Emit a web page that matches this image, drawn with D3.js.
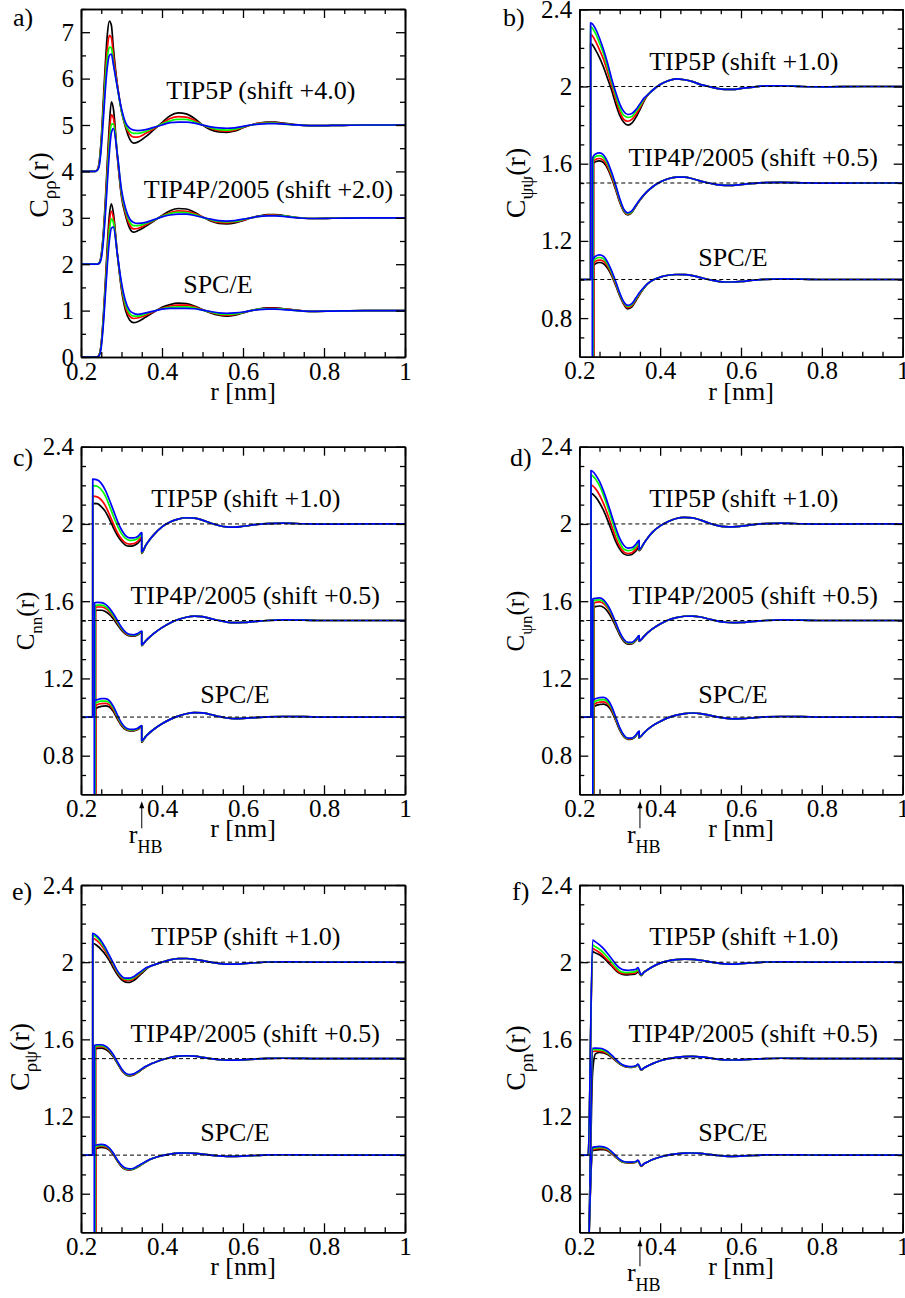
<!DOCTYPE html>
<html><head><meta charset="utf-8">
<script src="https://cdn.jsdelivr.net/npm/d3@7"></script>
<style>body{margin:0;background:#fff}</style>
</head><body>
<svg id="chart" width="905" height="1298"></svg>
<script>
// ---------------- DATA ----------------
const COLORS = ['#000000', '#ff0000', '#00ff00', '#0000ff'];
const MODEL_NAMES = ['TIP5P', 'TIP4P/2005', 'SPC/E'];
const X_TICKS = [0.2, 0.4, 0.6, 0.8, 1.0];
const X_MINOR = [0.25, 0.3, 0.35, 0.45, 0.5, 0.55, 0.65, 0.7, 0.75, 0.85, 0.9, 0.95];
const Y_TICKS_A = [0, 1, 2, 3, 4, 5, 6, 7];
const Y_MINOR_A = [0.5, 1.5, 2.5, 3.5, 4.5, 5.5, 6.5, 7.5];
const Y_TICKS = [0.8, 1.2, 1.6, 2.0, 2.4];
const Y_MINOR = [0.7, 0.9, 1.0, 1.1, 1.3, 1.4, 1.5, 1.7, 1.8, 1.9, 2.1, 2.2, 2.3];
const REF_LINES = [1.0, 1.5, 2.0];
const BASE = [1.0, 0.5, 0.0];
// small per-temperature spread of the onset position (black, red, green, blue) for TIP4P/2005 and SPC/E
const ONSET_SPREAD = [0.0008, 0.0016, 0.0004, -0.0012];

// panel a) C_rho rho
const A_R = [0.2, 0.235, 0.24, 0.245, 0.25, 0.255, 0.26, 0.265, 0.27, 0.275, 0.28, 0.29, 0.30, 0.31, 0.32, 0.33, 0.34, 0.36, 0.38, 0.40, 0.42, 0.44, 0.46, 0.48, 0.50, 0.52, 0.54, 0.56, 0.58, 0.60, 0.62, 0.64, 0.66, 0.68, 0.70, 0.72];
const A_TIP5P = [
  [4, 4, 4.03, 4.2, 4.7, 5.5, 6.3, 6.95, 7.24, 7.15, 6.65, 5.85, 5.3, 4.95, 4.7, 4.61, 4.63, 4.75, 4.9, 5.05, 5.2, 5.26, 5.24, 5.14, 5.0, 4.9, 4.85, 4.84, 4.87, 4.94, 5.0, 5.04, 5.06, 5.06, 5.04, 5.02],
  [4, 4, 4.03, 4.18, 4.65, 5.35, 6.1, 6.65, 6.93, 6.88, 6.5, 5.85, 5.3, 4.98, 4.8, 4.74, 4.74, 4.82, 4.92, 5.03, 5.14, 5.18, 5.17, 5.1, 5.0, 4.93, 4.88, 4.87, 4.89, 4.95, 5.0, 5.04, 5.05, 5.05, 5.03, 5.01],
  [4, 4, 4.02, 4.15, 4.6, 5.25, 5.95, 6.45, 6.68, 6.66, 6.35, 5.8, 5.3, 5.0, 4.86, 4.82, 4.82, 4.86, 4.94, 5.02, 5.09, 5.12, 5.12, 5.07, 5.0, 4.94, 4.9, 4.89, 4.91, 4.96, 5.0, 5.03, 5.04, 5.04, 5.02, 5.01],
  [4, 4, 4.02, 4.12, 4.5, 5.1, 5.75, 6.25, 6.5, 6.53, 6.3, 5.8, 5.35, 5.05, 4.93, 4.89, 4.88, 4.9, 4.95, 5.0, 5.05, 5.06, 5.06, 5.04, 5.0, 4.96, 4.94, 4.93, 4.94, 4.97, 5.0, 5.02, 5.03, 5.03, 5.02, 5.01]
];
const A_TIP4P = [
  [2, 2, 2, 2.03, 2.2, 2.65, 3.35, 4.2, 5.0, 5.5, 5.35, 4.3, 3.45, 3.05, 2.78, 2.69, 2.72, 2.82, 2.93, 3.05, 3.15, 3.2, 3.19, 3.12, 3.02, 2.93, 2.88, 2.87, 2.89, 2.94, 3.0, 3.04, 3.07, 3.07, 3.05, 3.02],
  [2, 2, 2, 2.02, 2.18, 2.6, 3.25, 4.05, 4.8, 5.22, 5.15, 4.3, 3.5, 3.1, 2.85, 2.76, 2.77, 2.85, 2.94, 3.04, 3.11, 3.15, 3.14, 3.09, 3.02, 2.95, 2.9, 2.89, 2.91, 2.95, 3.0, 3.03, 3.06, 3.06, 3.04, 3.02],
  [2, 2, 2, 2.02, 2.15, 2.55, 3.15, 3.9, 4.6, 5.02, 5.02, 4.35, 3.55, 3.15, 2.92, 2.83, 2.83, 2.88, 2.95, 3.03, 3.09, 3.12, 3.11, 3.07, 3.01, 2.96, 2.92, 2.91, 2.92, 2.96, 3.0, 3.03, 3.05, 3.05, 3.04, 3.02],
  [2, 2, 2, 2.02, 2.12, 2.48, 3.05, 3.75, 4.4, 4.83, 4.92, 4.35, 3.6, 3.2, 2.98, 2.9, 2.88, 2.9, 2.96, 3.02, 3.06, 3.08, 3.08, 3.05, 3.01, 2.97, 2.94, 2.93, 2.94, 2.97, 3.0, 3.03, 3.04, 3.04, 3.03, 3.01]
];
const A_SPCE = [
  [0, 0, 0, 0.05, 0.3, 0.85, 1.6, 2.4, 3.05, 3.3, 3.1, 2.2, 1.45, 1.0, 0.8, 0.74, 0.76, 0.86, 0.97, 1.07, 1.13, 1.16, 1.15, 1.1, 1.02, 0.95, 0.9, 0.88, 0.9, 0.95, 1.0, 1.04, 1.06, 1.06, 1.04, 1.02],
  [0, 0, 0, 0.05, 0.28, 0.8, 1.5, 2.25, 2.88, 3.14, 3.0, 2.2, 1.5, 1.07, 0.88, 0.83, 0.84, 0.9, 0.98, 1.05, 1.1, 1.12, 1.12, 1.08, 1.02, 0.96, 0.92, 0.9, 0.92, 0.96, 1.0, 1.03, 1.05, 1.05, 1.04, 1.02],
  [0, 0, 0, 0.04, 0.25, 0.75, 1.42, 2.12, 2.7, 2.98, 2.9, 2.2, 1.55, 1.13, 0.94, 0.88, 0.88, 0.93, 0.99, 1.04, 1.07, 1.08, 1.08, 1.06, 1.01, 0.97, 0.93, 0.92, 0.93, 0.96, 1.0, 1.03, 1.04, 1.04, 1.03, 1.01],
  [0, 0, 0, 0.03, 0.22, 0.68, 1.32, 1.98, 2.5, 2.78, 2.8, 2.2, 1.6, 1.2, 1.0, 0.94, 0.92, 0.95, 0.99, 1.03, 1.05, 1.05, 1.05, 1.04, 1.01, 0.98, 0.95, 0.94, 0.95, 0.97, 1.0, 1.02, 1.03, 1.03, 1.02, 1.01]
];
const A_TAIL_R = [0.75, 0.78, 0.82, 0.90, 1.00];
const A_TAIL = [
  [4.99, 4.985, 4.99, 5.0, 5.0],
  [2.99, 2.985, 2.99, 3.0, 3.0],
  [0.99, 0.985, 0.99, 1.0, 1.0]
];

// common grids for panels b)-f)  (first head value = value at top of the jump)
const HEAD_R_BE = [0.24, 0.25, 0.26, 0.27, 0.28, 0.29, 0.30, 0.31, 0.32, 0.33, 0.34, 0.35, 0.36];
const TAIL_R_BE = [0.37, 0.38, 0.40, 0.42, 0.44, 0.46, 0.48, 0.50, 0.52, 0.54, 0.56, 0.58, 0.60, 0.63, 0.66, 0.70, 0.75, 0.80, 0.90, 1.00];
const HEAD_R_C = [0.24, 0.25, 0.26, 0.27, 0.28, 0.29, 0.30, 0.31, 0.32, 0.33, 0.34, 0.35];
const HEAD_R_D = [0.24, 0.25, 0.26, 0.27, 0.28, 0.29, 0.30, 0.31, 0.32, 0.33, 0.34, 0.348];
const HEAD_R_F = [0.24, 0.25, 0.26, 0.27, 0.28, 0.29, 0.30, 0.31, 0.32, 0.33, 0.34, 0.345];
const TAIL_R_CDF = [0.36, 0.37, 0.38, 0.40, 0.42, 0.44, 0.46, 0.48, 0.50, 0.52, 0.54, 0.56, 0.58, 0.60, 0.63, 0.66, 0.70, 0.75, 0.80, 0.90, 1.00];
const R_HB = 0.35;

// panel b) C_psi psi
const B_JUMP_FROM = [0.228, 0.234, 0.234];
const B_JUMP_TO = [0.228, 0.234, 0.234];
const B_TIP5P = [
  [2.223, 2.19, 2.15, 2.10, 2.04, 1.98, 1.91, 1.85, 1.815, 1.80, 1.81, 1.84, 1.88, 1.925],
  [2.27, 2.235, 2.19, 2.14, 2.075, 2.005, 1.935, 1.87, 1.83, 1.82, 1.83, 1.855, 1.89, 1.93],
  [2.31, 2.275, 2.225, 2.17, 2.10, 2.025, 1.955, 1.89, 1.85, 1.84, 1.845, 1.87, 1.90, 1.935],
  [2.33, 2.30, 2.25, 2.19, 2.12, 2.04, 1.97, 1.91, 1.87, 1.855, 1.86, 1.88, 1.91, 1.94]
];
const B_TIP4P = [
  [1.60, 1.61, 1.615, 1.605, 1.575, 1.525, 1.465, 1.40, 1.352, 1.335, 1.347, 1.38, 1.41, 1.437],
  [1.61, 1.622, 1.627, 1.617, 1.585, 1.533, 1.472, 1.406, 1.356, 1.338, 1.35, 1.381, 1.412, 1.438],
  [1.62, 1.637, 1.642, 1.632, 1.598, 1.545, 1.481, 1.413, 1.36, 1.341, 1.352, 1.383, 1.413, 1.439],
  [1.63, 1.65, 1.656, 1.645, 1.61, 1.555, 1.49, 1.42, 1.365, 1.345, 1.355, 1.385, 1.415, 1.44]
];
const B_SPCE = [
  [1.07, 1.082, 1.088, 1.082, 1.058, 1.02, 0.97, 0.915, 0.872, 0.848, 0.858, 0.89, 0.925, 0.955],
  [1.08, 1.094, 1.1, 1.094, 1.068, 1.028, 0.976, 0.92, 0.876, 0.854, 0.864, 0.896, 0.928, 0.957],
  [1.09, 1.107, 1.114, 1.107, 1.079, 1.036, 0.983, 0.925, 0.88, 0.86, 0.87, 0.9, 0.931, 0.958],
  [1.10, 1.12, 1.128, 1.12, 1.09, 1.045, 0.99, 0.93, 0.885, 0.866, 0.875, 0.905, 0.935, 0.96]
];
const B_TAIL = [
  [1.958, 1.978, 2.01, 2.03, 2.04, 2.035, 2.025, 2.01, 2.0, 1.99, 1.985, 1.985, 1.99, 1.997, 2.003, 2.004, 2.0, 1.998, 2.0, 2.0],
  [1.46, 1.478, 1.505, 1.522, 1.53, 1.53, 1.522, 1.51, 1.5, 1.492, 1.488, 1.488, 1.492, 1.498, 1.502, 1.503, 1.501, 1.499, 1.5, 1.5],
  [0.98, 0.995, 1.012, 1.022, 1.026, 1.025, 1.02, 1.01, 1.0, 0.992, 0.987, 0.987, 0.99, 0.996, 1.001, 1.003, 1.002, 1.0, 1.0, 1.0]
];

// panel c) C_nn  (last head value = value just after r_HB drop)
const C_JUMP_FROM = [0.229, 0.2346, 0.2346];
const C_JUMP_TO = [0.229, 0.2346, 0.2346];
const C_TIP5P = [
  [2.107, 2.105, 2.09, 2.065, 2.025, 1.98, 1.94, 1.91, 1.89, 1.885, 1.888, 1.9, 1.92, 1.848],
  [2.144, 2.14, 2.125, 2.095, 2.05, 2.0, 1.955, 1.922, 1.902, 1.896, 1.898, 1.91, 1.93, 1.85],
  [2.198, 2.195, 2.178, 2.145, 2.095, 2.04, 1.99, 1.95, 1.925, 1.915, 1.916, 1.925, 1.945, 1.852],
  [2.232, 2.228, 2.21, 2.175, 2.125, 2.07, 2.015, 1.97, 1.94, 1.928, 1.928, 1.935, 1.955, 1.855]
];
const C_TIP4P = [
  [1.551, 1.553, 1.553, 1.547, 1.532, 1.508, 1.478, 1.45, 1.43, 1.42, 1.419, 1.425, 1.438, 1.37],
  [1.568, 1.57, 1.57, 1.563, 1.546, 1.519, 1.487, 1.456, 1.434, 1.423, 1.421, 1.427, 1.44, 1.372],
  [1.578, 1.58, 1.58, 1.573, 1.554, 1.526, 1.493, 1.46, 1.437, 1.425, 1.423, 1.429, 1.442, 1.373],
  [1.592, 1.594, 1.593, 1.585, 1.565, 1.535, 1.5, 1.465, 1.44, 1.428, 1.426, 1.432, 1.445, 1.375]
];
const C_SPCE = [
  [1.04, 1.048, 1.055, 1.058, 1.052, 1.028, 0.99, 0.955, 0.935, 0.928, 0.928, 0.935, 0.95, 0.87],
  [1.057, 1.064, 1.07, 1.071, 1.064, 1.038, 0.997, 0.96, 0.939, 0.931, 0.931, 0.937, 0.952, 0.873],
  [1.071, 1.077, 1.083, 1.083, 1.075, 1.046, 1.003, 0.965, 0.942, 0.934, 0.933, 0.939, 0.954, 0.875],
  [1.085, 1.09, 1.095, 1.095, 1.085, 1.055, 1.01, 0.97, 0.945, 0.937, 0.936, 0.942, 0.956, 0.878]
];
const C_TAIL = [
  [1.89, 1.92, 1.945, 1.985, 2.01, 2.025, 2.032, 2.03, 2.02, 2.005, 1.992, 1.985, 1.984, 1.988, 1.996, 2.002, 2.004, 2.001, 1.999, 2.0, 2.0],
  [1.395, 1.415, 1.433, 1.463, 1.487, 1.505, 1.517, 1.523, 1.52, 1.51, 1.5, 1.492, 1.489, 1.49, 1.495, 1.5, 1.503, 1.502, 1.5, 1.5, 1.5],
  [0.9, 0.92, 0.937, 0.965, 0.988, 1.005, 1.017, 1.023, 1.022, 1.013, 1.003, 0.995, 0.992, 0.993, 0.997, 1.001, 1.003, 1.002, 1.0, 1.0, 1.0]
];

// panel d) C_psi n
const D_JUMP_FROM = [0.229, 0.2347, 0.2347];
const D_JUMP_TO = [0.229, 0.2347, 0.2347];
const D_TIP5P = [
  [2.158, 2.14, 2.11, 2.07, 2.02, 1.965, 1.91, 1.87, 1.845, 1.838, 1.842, 1.86, 1.88, 1.862],
  [2.201, 2.183, 2.15, 2.105, 2.05, 1.99, 1.93, 1.883, 1.855, 1.847, 1.851, 1.87, 1.893, 1.864],
  [2.253, 2.233, 2.198, 2.148, 2.088, 2.023, 1.958, 1.905, 1.87, 1.862, 1.865, 1.883, 1.905, 1.866],
  [2.276, 2.255, 2.22, 2.17, 2.11, 2.045, 1.98, 1.925, 1.89, 1.875, 1.877, 1.895, 1.915, 1.868]
];
const D_TIP4P = [
  [1.566, 1.572, 1.575, 1.568, 1.547, 1.513, 1.47, 1.425, 1.392, 1.378, 1.379, 1.396, 1.416, 1.392],
  [1.589, 1.594, 1.596, 1.588, 1.564, 1.527, 1.48, 1.432, 1.397, 1.382, 1.382, 1.399, 1.419, 1.393],
  [1.601, 1.606, 1.607, 1.598, 1.572, 1.534, 1.485, 1.436, 1.4, 1.384, 1.384, 1.401, 1.42, 1.394],
  [1.611, 1.615, 1.617, 1.607, 1.58, 1.54, 1.49, 1.44, 1.403, 1.387, 1.387, 1.403, 1.422, 1.395]
];
const D_SPCE = [
  [1.05, 1.058, 1.065, 1.067, 1.058, 1.03, 0.982, 0.932, 0.898, 0.884, 0.885, 0.902, 0.923, 0.892],
  [1.062, 1.07, 1.077, 1.079, 1.069, 1.039, 0.988, 0.937, 0.902, 0.887, 0.888, 0.904, 0.925, 0.893],
  [1.074, 1.082, 1.089, 1.09, 1.079, 1.047, 0.994, 0.941, 0.905, 0.889, 0.889, 0.905, 0.926, 0.894],
  [1.088, 1.095, 1.101, 1.102, 1.09, 1.055, 1.0, 0.945, 0.907, 0.891, 0.891, 0.907, 0.927, 0.895]
];
const D_TAIL = [
  [1.9, 1.93, 1.955, 1.99, 2.013, 2.028, 2.034, 2.031, 2.02, 2.005, 1.993, 1.986, 1.985, 1.988, 1.996, 2.002, 2.004, 2.001, 1.999, 2.0, 2.0],
  [1.418, 1.438, 1.455, 1.482, 1.503, 1.515, 1.522, 1.523, 1.518, 1.508, 1.498, 1.491, 1.489, 1.49, 1.495, 1.5, 1.503, 1.502, 1.5, 1.5, 1.5],
  [0.918, 0.937, 0.953, 0.977, 0.997, 1.01, 1.018, 1.021, 1.018, 1.01, 1.001, 0.994, 0.991, 0.992, 0.996, 1.001, 1.003, 1.002, 1.0, 1.0, 1.0]
];

// panel e) C_rho psi
const E_JUMP_FROM = [0.229, 0.2346, 0.2346];
const E_JUMP_TO = [0.229, 0.2346, 0.2346];
const E_TIP5P = [
  [2.098, 2.085, 2.065, 2.04, 2.008, 1.97, 1.935, 1.91, 1.897, 1.895, 1.905, 1.922, 1.942, 1.962],
  [2.124, 2.11, 2.088, 2.058, 2.022, 1.983, 1.945, 1.919, 1.906, 1.905, 1.914, 1.93, 1.948, 1.965],
  [2.141, 2.126, 2.1, 2.068, 2.03, 1.99, 1.95, 1.924, 1.912, 1.911, 1.92, 1.935, 1.951, 1.967],
  [2.15, 2.135, 2.11, 2.075, 2.035, 1.995, 1.955, 1.928, 1.917, 1.917, 1.925, 1.94, 1.955, 1.97]
];
const E_TIP4P = [
  [1.548, 1.553, 1.555, 1.549, 1.534, 1.508, 1.474, 1.44, 1.418, 1.41, 1.415, 1.428, 1.443, 1.457],
  [1.556, 1.561, 1.562, 1.556, 1.54, 1.513, 1.478, 1.443, 1.42, 1.413, 1.417, 1.43, 1.445, 1.458],
  [1.562, 1.566, 1.567, 1.56, 1.544, 1.516, 1.48, 1.446, 1.422, 1.415, 1.419, 1.431, 1.446, 1.459],
  [1.568, 1.572, 1.572, 1.565, 1.548, 1.52, 1.483, 1.448, 1.424, 1.417, 1.421, 1.433, 1.447, 1.46]
];
const E_SPCE = [
  [1.03, 1.036, 1.04, 1.038, 1.026, 1.002, 0.968, 0.94, 0.926, 0.923, 0.927, 0.938, 0.951, 0.964],
  [1.036, 1.042, 1.046, 1.043, 1.03, 1.005, 0.97, 0.943, 0.928, 0.925, 0.929, 0.94, 0.952, 0.965],
  [1.042, 1.047, 1.051, 1.048, 1.034, 1.008, 0.972, 0.945, 0.93, 0.927, 0.93, 0.941, 0.953, 0.966],
  [1.048, 1.053, 1.056, 1.052, 1.037, 1.01, 0.975, 0.948, 0.933, 0.929, 0.932, 0.943, 0.955, 0.967]
];
const E_TAIL = [
  [1.978, 1.986, 2.0, 2.012, 2.018, 2.019, 2.015, 2.008, 2.0, 1.994, 1.99, 1.99, 1.992, 1.997, 2.001, 2.002, 2.001, 2.0, 2.0, 2.0],
  [1.47, 1.479, 1.494, 1.506, 1.513, 1.515, 1.513, 1.507, 1.5, 1.495, 1.492, 1.492, 1.494, 1.498, 1.501, 1.502, 1.501, 1.5, 1.5, 1.5],
  [0.977, 0.985, 0.997, 1.005, 1.01, 1.011, 1.009, 1.005, 1.0, 0.996, 0.994, 0.994, 0.995, 0.998, 1.001, 1.002, 1.001, 1.0, 1.0, 1.0]
];

// panel f) C_rho n  (drop after r_HB at 0.353)
const F_JUMP_FROM = [0.222, 0.222, 0.2135];
const F_JUMP_TO = [0.233, 0.233, 0.233];
const F_DROP_R = 0.353;
const F_TIP5P = [
  [2.055, 2.048, 2.038, 2.022, 2.002, 1.98, 1.958, 1.942, 1.935, 1.934, 1.936, 1.94, 1.95, 1.93],
  [2.072, 2.063, 2.05, 2.032, 2.01, 1.986, 1.963, 1.946, 1.94, 1.94, 1.942, 1.946, 1.956, 1.932],
  [2.089, 2.08, 2.067, 2.048, 2.025, 2.0, 1.975, 1.955, 1.947, 1.946, 1.948, 1.952, 1.962, 1.933],
  [2.115, 2.105, 2.09, 2.07, 2.045, 2.018, 1.99, 1.97, 1.96, 1.958, 1.96, 1.963, 1.972, 1.935]
];
const F_TIP4P = [
  [1.43, 1.525, 1.533, 1.53, 1.522, 1.507, 1.489, 1.472, 1.461, 1.456, 1.455, 1.459, 1.468, 1.44],
  [1.537, 1.539, 1.539, 1.535, 1.526, 1.51, 1.491, 1.474, 1.462, 1.457, 1.456, 1.46, 1.469, 1.441],
  [1.546, 1.548, 1.547, 1.542, 1.531, 1.514, 1.494, 1.476, 1.463, 1.458, 1.457, 1.461, 1.47, 1.442],
  [1.554, 1.555, 1.554, 1.549, 1.537, 1.518, 1.497, 1.478, 1.465, 1.46, 1.459, 1.463, 1.472, 1.443]
];
const F_SPCE = [
  [1.022, 1.026, 1.029, 1.029, 1.023, 1.008, 0.989, 0.972, 0.962, 0.96, 0.96, 0.963, 0.97, 0.942],
  [1.028, 1.032, 1.035, 1.034, 1.027, 1.011, 0.991, 0.974, 0.964, 0.961, 0.961, 0.964, 0.971, 0.943],
  [1.034, 1.038, 1.04, 1.039, 1.031, 1.014, 0.994, 0.976, 0.965, 0.962, 0.962, 0.965, 0.972, 0.944],
  [1.04, 1.043, 1.045, 1.043, 1.035, 1.018, 0.997, 0.978, 0.967, 0.964, 0.964, 0.967, 0.974, 0.945]
];
const F_TAIL = [
  [1.948, 1.962, 1.975, 1.995, 2.007, 2.013, 2.016, 2.015, 2.01, 2.003, 1.996, 1.991, 1.99, 1.992, 1.997, 2.001, 2.002, 2.001, 2.0, 2.0, 2.0],
  [1.452, 1.463, 1.473, 1.489, 1.5, 1.507, 1.511, 1.512, 1.509, 1.504, 1.498, 1.494, 1.493, 1.494, 1.497, 1.5, 1.502, 1.501, 1.5, 1.5, 1.5],
  [0.955, 0.966, 0.976, 0.99, 1.0, 1.006, 1.01, 1.011, 1.009, 1.004, 0.999, 0.995, 0.994, 0.995, 0.998, 1.001, 1.002, 1.001, 1.0, 1.0, 1.0]
];

const LABELS_A = ['TIP5P (shift +4.0)', 'TIP4P/2005 (shift +2.0)', 'SPC/E'];
const LABELS_BF = ['TIP5P (shift +1.0)', 'TIP4P/2005 (shift +0.5)', 'SPC/E'];

// ---------------- CURVE BUILDERS ----------------
function curvesA() {
  const groups = [A_TIP5P, A_TIP4P, A_SPCE];
  const out = [];
  groups.forEach((grp, m) => grp.forEach((vals, c) => {
    const pts = A_R.map((r, i) => [r, vals[i]]).concat(A_TAIL_R.map((r, i) => [r, A_TAIL[m][i]]));
    out.push({ pts, color: COLORS[c] });
  }));
  return out;
}
function curvesJump(groups, jFrom, jTo, headR, dropR, tailR, tails, spread) {
  const out = [];
  groups.forEach((grp, m) => grp.forEach((vals, c) => {
    const dx = (spread && m > 0) ? ONSET_SPREAD[c] : 0;
    const pts = [[0.2, BASE[m]], [jFrom[m] + dx, BASE[m]], [jTo[m] + dx, vals[0]]];
    headR.forEach((r, i) => pts.push([r, vals[i + 1]]));
    if (dropR != null) pts.push([dropR, vals[vals.length - 1]]);
    tailR.forEach((r, i) => pts.push([r, tails[m][i]]));
    out.push({ pts, color: COLORS[c] });
  }));
  return out;
}

// ---------------- LAYOUT ----------------
const FONT = '"Liberation Serif", "Times New Roman", serif';
const svg = d3.select('#chart');
const fmt = v => String(Math.round(v * 10) / 10);
const txt = (sel) => sel.style('font-family', FONT).attr('fill', '#000');

const panels = [
  { id: 'a', L: 81, R: 405, T: 9, B: 357, yDom: [0, 7.5], yT: Y_TICKS_A, yM: Y_MINOR_A,
    curves: curvesA(), labels: LABELS_A, labPos: [[0.644, 5.56], [0.663, 3.43], [0.538, 1.38]],
    refs: false, letter: 'a)', letXY: [13, 26], sub: 'ρρ', ylab: [48, 185, 28], hb: false },
  { id: 'b', L: 579.3, R: 902.7, T: 9.3, B: 356.7, yDom: [0.6, 2.4], yT: Y_TICKS, yM: Y_MINOR,
    curves: curvesJump([B_TIP5P, B_TIP4P, B_SPCE], B_JUMP_FROM, B_JUMP_TO, HEAD_R_BE, null, TAIL_R_BE, B_TAIL, true),
    labels: LABELS_BF, labPos: [[0.607, 2.087], [0.63, 1.587], [0.58, 1.071]],
    refs: true, letter: 'b)', letXY: [503, 26], sub: 'ψψ', ylab: [525, 183, 28], hb: false },
  { id: 'c', L: 81, R: 405, T: 446.7, B: 794.3, yDom: [0.6, 2.4], yT: Y_TICKS, yM: Y_MINOR,
    curves: curvesJump([C_TIP5P, C_TIP4P, C_SPCE], C_JUMP_FROM, C_JUMP_TO, HEAD_R_C, R_HB, TAIL_R_CDF, C_TAIL, true),
    labels: LABELS_BF, labPos: [[0.607, 2.087], [0.63, 1.587], [0.58, 1.071]],
    refs: true, letter: 'c)', letXY: [13, 466], sub: 'nn', ylab: [34, 621, 25], hb: true },
  { id: 'd', L: 579.3, R: 902.7, T: 446.7, B: 794.3, yDom: [0.6, 2.4], yT: Y_TICKS, yM: Y_MINOR,
    curves: curvesJump([D_TIP5P, D_TIP4P, D_SPCE], D_JUMP_FROM, D_JUMP_TO, HEAD_R_D, 0.348, TAIL_R_CDF, D_TAIL, true),
    labels: LABELS_BF, labPos: [[0.607, 2.087], [0.63, 1.587], [0.58, 1.071]],
    refs: true, letter: 'd)', letXY: [510, 466], sub: 'ψn', ylab: [524, 621, 25], hb: true },
  { id: 'e', L: 81, R: 405, T: 885, B: 1232.3, yDom: [0.6, 2.4], yT: Y_TICKS, yM: Y_MINOR,
    curves: curvesJump([E_TIP5P, E_TIP4P, E_SPCE], E_JUMP_FROM, E_JUMP_TO, HEAD_R_BE, null, TAIL_R_BE, E_TAIL, true),
    labels: LABELS_BF, labPos: [[0.607, 2.087], [0.63, 1.587], [0.58, 1.071]],
    refs: true, letter: 'e)', letXY: [12, 900], sub: 'ρψ', ylab: [29, 1057, 28], hb: false },
  { id: 'f', L: 579.3, R: 902.7, T: 885, B: 1232.3, yDom: [0.6, 2.4], yT: Y_TICKS, yM: Y_MINOR,
    curves: curvesJump([F_TIP5P, F_TIP4P, F_SPCE], F_JUMP_FROM, F_JUMP_TO, HEAD_R_F, F_DROP_R, TAIL_R_CDF, F_TAIL, false),
    labels: LABELS_BF, labPos: [[0.607, 2.087], [0.63, 1.587], [0.58, 1.071]],
    refs: true, letter: 'f)', letXY: [512, 900], sub: 'ρn', ylab: [525, 1058, 28], hb: true }
];

panels.forEach(P => {
  const x = d3.scaleLinear().domain([0.2, 1.0]).range([P.L, P.R]);
  const y = d3.scaleLinear().domain(P.yDom).range([P.B, P.T]);
  const g = svg.append('g');

  // clip
  const cid = 'clip-' + P.id;
  svg.append('clipPath').attr('id', cid).append('rect')
    .attr('x', P.L).attr('y', P.T).attr('width', P.R - P.L).attr('height', P.B - P.T);

  // curves
  const line = d3.line().x(d => x(d[0])).y(d => y(d[1])).curve(d3.curveMonotoneX);
  const cg = g.append('g').attr('clip-path', `url(#${cid})`);
  P.curves.forEach(cv => {
    cg.append('path').attr('d', line(cv.pts)).attr('fill', 'none')
      .attr('stroke', cv.color).attr('stroke-width', 1.7).attr('stroke-linejoin', 'round');
  });

  // dashed reference lines
  if (P.refs) {
    REF_LINES.forEach(v => {
      cg.append('line').attr('x1', x(0.2)).attr('x2', x(1.0)).attr('y1', y(v)).attr('y2', y(v))
        .attr('stroke', '#000').attr('stroke-width', 1).attr('stroke-dasharray', '4,3');
    });
  }

  // axes (inward ticks on all sides)
  const styleAxis = sel => {
    sel.attr('font-family', null);
    sel.selectAll('path.domain').attr('stroke', '#000').attr('stroke-width', 1.6);
    sel.selectAll('.tick line').attr('stroke', '#000').attr('stroke-width', 1.3);
    sel.selectAll('text').attr('font-size', 25).call(txt);
  };
  g.append('g').attr('transform', `translate(0,${P.B})`)
    .call(d3.axisBottom(x).tickValues(X_TICKS).tickSize(-9).tickSizeOuter(0).tickPadding(5).tickFormat(fmt))
    .call(styleAxis);
  g.append('g').attr('transform', `translate(0,${P.B})`)
    .call(d3.axisBottom(x).tickValues(X_MINOR).tickSize(-5).tickSizeOuter(0).tickFormat(''))
    .call(styleAxis);
  g.append('g').attr('transform', `translate(0,${P.T})`)
    .call(d3.axisTop(x).tickValues(X_TICKS).tickSize(-9).tickSizeOuter(0).tickFormat(''))
    .call(styleAxis);
  g.append('g').attr('transform', `translate(0,${P.T})`)
    .call(d3.axisTop(x).tickValues(X_MINOR).tickSize(-5).tickSizeOuter(0).tickFormat(''))
    .call(styleAxis);
  g.append('g').attr('transform', `translate(${P.L},0)`)
    .call(d3.axisLeft(y).tickValues(P.yT).tickSize(-9).tickSizeOuter(0).tickPadding(7).tickFormat(fmt))
    .call(styleAxis);
  g.append('g').attr('transform', `translate(${P.L},0)`)
    .call(d3.axisLeft(y).tickValues(P.yM).tickSize(-5).tickSizeOuter(0).tickFormat(''))
    .call(styleAxis);
  g.append('g').attr('transform', `translate(${P.R},0)`)
    .call(d3.axisRight(y).tickValues(P.yT).tickSize(-9).tickSizeOuter(0).tickFormat(''))
    .call(styleAxis);
  g.append('g').attr('transform', `translate(${P.R},0)`)
    .call(d3.axisRight(y).tickValues(P.yM).tickSize(-5).tickSizeOuter(0).tickFormat(''))
    .call(styleAxis);

  // model labels
  P.labels.forEach((t, i) => {
    g.append('text').attr('x', x(P.labPos[i][0])).attr('y', y(P.labPos[i][1]))
      .attr('text-anchor', 'middle').attr('font-size', 26).call(txt).text(t);
  });

  // x-axis title
  g.append('text').attr('x', (P.L + P.R) / 2).attr('y', P.B + 43)
    .attr('text-anchor', 'middle').attr('font-size', 26).call(txt).text('r [nm]');

  // y-axis title
  const [lx, ly, fs] = P.ylab;
  const yt = g.append('text').attr('transform', `translate(${lx},${ly}) rotate(-90)`)
    .attr('text-anchor', 'middle').attr('font-size', fs).call(txt);
  yt.append('tspan').text('C');
  yt.append('tspan').attr('font-size', fs * 0.68).attr('dy', fs * 0.3).text(P.sub);
  yt.append('tspan').attr('dy', -fs * 0.3).text('(r)');

  // panel letter
  g.append('text').attr('x', P.letXY[0]).attr('y', P.letXY[1]).attr('font-size', 26)
    .call(txt).text(P.letter);

  // r_HB marker
  if (P.hb) {
    const ax = x(R_HB);
    g.append('line').attr('x1', ax).attr('x2', ax).attr('y1', P.B + 12).attr('y2', P.B + 34)
      .attr('stroke', '#000').attr('stroke-width', 1);
    g.append('path').attr('d', `M${ax},${P.B + 7} L${ax - 2.5},${P.B + 14} L${ax + 2.5},${P.B + 14} Z`).attr('fill', '#000');
    const ht = g.append('text').attr('x', ax - 13).attr('y', P.B + 49).attr('font-size', 26).call(txt);
    ht.append('tspan').text('r');
    ht.append('tspan').attr('font-size', 18).attr('dy', 10).text('HB');
  }
});
</script>
</body></html>
